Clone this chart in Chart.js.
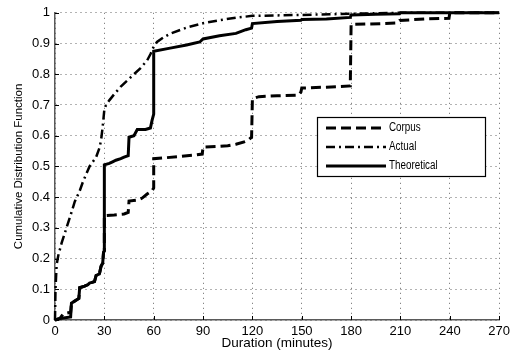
<!DOCTYPE html>
<html>
<head>
<meta charset="utf-8">
<script src="https://cdn.jsdelivr.net/npm/chart.js@4/dist/chart.umd.min.js"></script>
<style>
  html, body { margin: 0; padding: 0; background: #fff; }
  #wrap { width: 514px; height: 352px; position: relative; }
</style>
</head>
<body>
<div id="wrap"><canvas id="c" width="514" height="352"></canvas></div>
<script>
// ---- Data ----
const xTicks = [0, 30, 60, 90, 120, 150, 180, 210, 240, 270];
const yTicks = [0, 0.1, 0.2, 0.3, 0.4, 0.5, 0.6, 0.7, 0.8, 0.9, 1];
const seriesNames = ["Corpus", "Actual", "Theoretical"];

const corpusX = [0, 3, 5, 9.5, 10, 13, 14.5, 15, 18, 20, 21, 24, 25, 27, 28, 29, 29.5, 30, 30, 36, 42, 44.5, 45, 50, 53, 56, 59, 60, 60, 65, 75, 85, 89.5, 90, 100, 105, 110, 115, 118, 119.5, 120, 124, 135, 148, 149.5, 150, 165, 179.5, 180, 200, 208, 209.5, 225, 239.5, 240, 270];
const corpusY = [0, 0.005, 0.02, 0.025, 0.055, 0.065, 0.07, 0.105, 0.11, 0.115, 0.12, 0.125, 0.145, 0.15, 0.175, 0.185, 0.22, 0.225, 0.34, 0.342, 0.345, 0.35, 0.387, 0.39, 0.397, 0.41, 0.42, 0.43, 0.525, 0.527, 0.532, 0.537, 0.54, 0.563, 0.565, 0.567, 0.572, 0.58, 0.588, 0.595, 0.72, 0.727, 0.73, 0.732, 0.742, 0.755, 0.758, 0.762, 0.962, 0.965, 0.967, 0.975, 0.98, 0.982, 1.0, 1.0];

const actualX = [0, 0.3, 1, 2, 4, 7, 10, 12, 15, 17, 19, 21, 23, 25, 27, 28, 29, 30, 31, 33, 36, 40, 44, 48, 52, 56, 58, 60, 62, 66, 70, 80, 90, 100, 110, 120, 150, 180, 210, 270];
const actualY = [0, 0.1, 0.18, 0.21, 0.25, 0.3, 0.35, 0.385, 0.42, 0.45, 0.475, 0.5, 0.515, 0.53, 0.56, 0.585, 0.63, 0.685, 0.7, 0.715, 0.735, 0.76, 0.78, 0.8, 0.82, 0.845, 0.865, 0.89, 0.905, 0.92, 0.932, 0.952, 0.966, 0.976, 0.984, 0.99, 0.993, 0.997, 1.0, 1.0];

const theoX = [0, 3, 9.5, 10, 13, 14.5, 15, 18, 20, 21, 24, 25, 27, 28, 29, 29.5, 30, 30, 33, 35, 37, 40, 42, 44.5, 45, 48, 50, 55, 58, 59, 60, 60, 70, 80, 88, 90, 100, 110, 116, 119.5, 120, 135, 149.5, 150, 165, 179.5, 180, 195, 209.5, 210, 270];
const theoY = [0, 0.005, 0.01, 0.055, 0.065, 0.07, 0.105, 0.11, 0.115, 0.12, 0.125, 0.145, 0.15, 0.175, 0.185, 0.22, 0.225, 0.505, 0.51, 0.515, 0.52, 0.525, 0.53, 0.535, 0.595, 0.6, 0.62, 0.62, 0.625, 0.65, 0.67, 0.875, 0.885, 0.895, 0.905, 0.915, 0.925, 0.933, 0.945, 0.95, 0.965, 0.972, 0.976, 0.978, 0.98, 0.985, 0.993, 0.995, 0.997, 1.0, 1.0];

function pts(xs, ys) { return xs.map((x, i) => ({ x: x, y: ys[i] })); }

const FONT = "'Liberation Sans', Arial, Helvetica, sans-serif";

// inward tick marks (MATLAB style) + legend box
const matlabDecor = {
  id: 'matlabDecor',
  afterDraw(chart) {
    const ctx = chart.ctx;
    const xs = chart.scales.x, ys = chart.scales.y;
    const area = chart.chartArea;
    ctx.save();
    ctx.strokeStyle = '#000';
    ctx.lineWidth = 1;
    ctx.beginPath();
    xs.ticks.forEach(t => {
      const px = Math.round(xs.getPixelForValue(t.value)) + 0.5;
      ctx.moveTo(px, area.bottom);
      ctx.lineTo(px, area.bottom - 4);
    });
    ys.ticks.forEach(t => {
      const py = Math.round(ys.getPixelForValue(t.value)) + 0.5;
      ctx.moveTo(area.left, py);
      ctx.lineTo(area.left + 4, py);
    });
    ctx.stroke();

    // legend
    const bx = 317, by = 117, bw = 168, bh = 59;
    ctx.fillStyle = '#fff';
    ctx.fillRect(bx, by, bw, bh);
    ctx.strokeStyle = '#000';
    ctx.lineWidth = 1.2;
    ctx.strokeRect(bx + 0.5, by + 0.5, bw, bh);
    const rowY = [128, 147, 166];
    chart.data.datasets.forEach((ds, i) => {
      const y = rowY[i];
      ctx.save();
      ctx.strokeStyle = ds.borderColor;
      ctx.lineWidth = ds.borderWidth;
      ctx.setLineDash(ds.borderDash || []);
      ctx.beginPath();
      ctx.moveTo(326, y);
      ctx.lineTo(386, y);
      ctx.stroke();
      ctx.restore();
      ctx.save();
      ctx.fillStyle = '#000';
      ctx.font = '12px ' + FONT;
      ctx.textBaseline = 'middle';
      ctx.translate(389, y);
      ctx.scale(0.82, 1);
      ctx.fillText(ds.label, 0, 0);
      ctx.restore();
    });
    ctx.restore();
  }
};

new Chart(document.getElementById('c'), {
  type: 'line',
  data: {
    datasets: [
      { label: seriesNames[0], data: pts(corpusX, corpusY), borderColor: '#000', borderWidth: 3,
        borderDash: [10, 5], pointRadius: 0, fill: false, tension: 0, order: 1, clip: 6 },
      { label: seriesNames[1], data: pts(actualX, actualY), borderColor: '#000', borderWidth: 2.5,
        borderDash: [9, 4, 2, 4], pointRadius: 0, fill: false, tension: 0, order: 2, clip: 6 },
      { label: seriesNames[2], data: pts(theoX, theoY), borderColor: '#000', borderWidth: 3,
        pointRadius: 0, fill: false, tension: 0, order: 0, clip: 6 }
    ]
  },
  options: {
    responsive: false,
    animation: false,
    devicePixelRatio: 1,
    layout: { padding: { top: 10, right: 14, left: 0, bottom: 0 } },
    plugins: { legend: { display: false }, tooltip: { enabled: false } },
    scales: {
      x: {
        type: 'linear', min: 0, max: 270,
        afterBuildTicks: s => { s.ticks = xTicks.map(v => ({ value: v })); },
        afterFit: s => { s.height = 32; },
        grid: { color: 'rgba(0,0,0,0.6)', lineWidth: 1, drawTicks: false },
        border: { display: true, color: '#5a5a5a', width: 1.5, dash: [1, 4] },
        ticks: { color: '#000', padding: 4, maxRotation: 0, font: { family: FONT, size: 13 } },
        title: { display: true, text: 'Duration (minutes)', color: '#000',
                 font: { family: FONT, size: 13.5 }, padding: { top: 0, bottom: 1 } }
      },
      y: {
        type: 'linear', min: 0, max: 1,
        afterBuildTicks: s => { s.ticks = yTicks.map(v => ({ value: v })); },
        afterFit: s => { s.width = 55; },
        grid: { color: 'rgba(0,0,0,0.6)', lineWidth: 1, drawTicks: false },
        border: { display: true, color: '#5a5a5a', width: 1.5, dash: [1, 4] },
        ticks: { color: '#000', padding: 5, font: { family: FONT, size: 13 },
                 callback: v => String(Math.round(v * 10) / 10) },
        title: { display: true, text: 'Cumulative Distribution Function', color: '#000',
                 font: { family: FONT, size: 11.5 }, padding: { top: 12, bottom: 0 } }
      }
    }
  },
  plugins: [matlabDecor]
});
</script>
</body>
</html>
